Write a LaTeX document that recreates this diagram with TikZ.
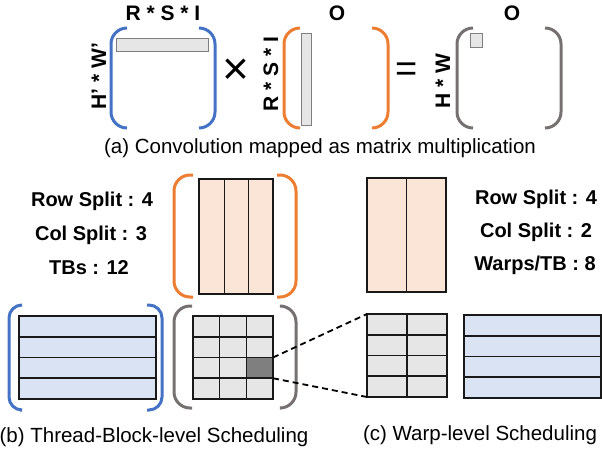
\documentclass[tikz,border=0pt]{standalone}
\usepackage{fontspec}
\setmainfont{Liberation Sans}
\definecolor{parenblue}{HTML}{4472C4}
\definecolor{parenorange}{HTML}{ED7D31}
\definecolor{parengray}{HTML}{767171}
\definecolor{bargray}{HTML}{E6E6E6}
\definecolor{darkcell}{HTML}{7F7F7F}
\definecolor{bluefill}{HTML}{DAE3F3}
\definecolor{orangefill}{HTML}{FBE5D6}
\begin{document}
\begin{tikzpicture}[x=1pt,y=-1pt,
   paren/.style={line width=3pt,rounded corners=16pt},
   gridline/.style={draw=black!90,line width=1.6pt},
   blk/.style={gridline,inner sep=0pt,outer sep=0pt},
   bar/.style={draw=darkcell,fill=bargray,line width=0.8pt},
   dimlabel/.style={font=\fontsize{21}{21}\selectfont\bfseries},
   info/.style={font=\fontsize{20}{20}\selectfont\bfseries,anchor=base},
   caption/.style={font=\fontsize{20.5}{20.5}\selectfont,anchor=base}]

   \useasboundingbox (0,0) rectangle (602,450);

   %%%%%%%%%% (a) convolution as matrix multiplication
   \draw[paren,parenblue] (127,28) -- (111,28) -- (111,128) -- (127,128);
   \draw[paren,parenblue] (199,28) -- (215,28) -- (215,128) -- (199,128);
   \draw[bar] (116,38) rectangle (208,51);
   \node[dimlabel,anchor=base] (rsitop) at (163,20) {R * S * I};
   \node[dimlabel,rotate=90] (hwin) at (99,76) {H’ * W’};
   \node[font=\fontsize{46}{46}\selectfont] (times) at (236,72) {×};

   \draw[paren,parenorange] (300,28) -- (284,28) -- (284,128) -- (300,128);
   \draw[paren,parenorange] (372,28) -- (388,28) -- (388,128) -- (372,128);
   \draw[bar] (301,33) rectangle (311,125);
   \node[dimlabel,rotate=90] (rsiside) at (271,74) {R * S * I};
   \node[dimlabel,anchor=base] (otop) at (337,20) {O};

   \node[font=\fontsize{38}{38}\selectfont] (equals) at (407,72) {=};

   \draw[paren,parengray] (473,28) -- (457,28) -- (457,128) -- (473,128);
   \draw[paren,parengray] (545,28) -- (561,28) -- (561,128) -- (545,128);
   \draw[bar] (470,33) rectangle (482,47);
   \node[dimlabel,rotate=90] (hwout) at (443,81) {H * W};
   \node[dimlabel,anchor=base] (oout) at (512,20) {O};

   \node[caption] (capa) at (320,153) {(a) Convolution mapped as matrix multiplication};

   %%%%%%%%%% (b) thread-block-level scheduling
   \node[info] (tbrow) at (92,206) {Row Split : 4};
   \node[info] (tbcol) at (91,240) {Col Split : 3};
   \node[info] (tbnum) at (89,274) {TBs : 12};

   \draw[paren,parenorange] (193,175) -- (174,175) -- (174,297) -- (193,297);
   \draw[paren,parenorange] (277,175) -- (296,175) -- (296,297) -- (277,297);
   \node[blk,fill=orangefill,minimum width=74pt,minimum height=115pt] (tbcols) at (236,236.5) {};
   \foreach \x in {224.67,248.33}
      \draw[gridline] (\x,179) -- (\x,294);

   \draw[paren,parenblue,rounded corners=13pt] (20,305) -- (9,305) -- (9,410) -- (20,410);
   \draw[paren,parenblue,rounded corners=13pt] (147,305) -- (162,305) -- (162,410) -- (147,410);
   \node[blk,fill=bluefill,minimum width=137pt,minimum height=83pt] (tbrows) at (87.5,357.5) {};
   \foreach \y in {336.75,357.5,378.25}
      \draw[gridline] (19,\y) -- (156,\y);

   \draw[paren,parengray] (192,306) -- (174,306) -- (174,408) -- (192,408);
   \draw[paren,parengray] (281,306) -- (296,306) -- (296,408) -- (281,408);
   \node[blk,fill=bargray,minimum width=80pt,minimum height=83pt] (tbgrid) at (233,357.5) {};
   \node[blk,fill=darkcell,minimum width=26.67pt,minimum height=20.75pt] (tbcell) at (259.67,367.875) {};
   \foreach \x in {219.67,246.33}
      \draw[gridline] (\x,316) -- (\x,399);
   \foreach \y in {336.75,357.5,378.25}
      \draw[gridline] (193,\y) -- (273,\y);

   \node[caption] (capb) at (154,442) {(b) Thread-Block-level Scheduling};

   %%%%%%%%%% (c) warp-level scheduling
   \node[blk,fill=orangefill,minimum width=79pt,minimum height=114pt] (wcols) at (406.5,235) {};
   \draw[gridline] (wcols.north) -- (wcols.south);

   \node[info] (wrow) at (536,204) {Row Split : 4};
   \node[info] (wcol) at (536,237) {Col Split : 2};
   \node[info] (wnum) at (535,270) {Warps/TB : 8};

   \node[blk,fill=bargray,minimum width=80pt,minimum height=83pt] (wgrid) at (407,355.5) {};
   \draw[gridline] (wgrid.north) -- (wgrid.south);
   \foreach \y in {334.75,355.5,376.25}
      \draw[gridline] (367,\y) -- (447,\y);

   \node[blk,fill=bluefill,minimum width=137pt,minimum height=83pt] (wrows) at (532.5,356.5) {};
   \foreach \y in {335.75,356.5,377.25}
      \draw[gridline] (464,\y) -- (601,\y);

   \draw[line width=1.8pt,dash pattern=on 6pt off 4pt] (tbcell.north east) -- (wgrid.north west);
   \draw[line width=1.8pt,dash pattern=on 6pt off 4pt] (tbcell.south east) -- (wgrid.south west);

   \node[caption] (capc) at (480,440) {(c) Warp-level Scheduling};
\end{tikzpicture}
\end{document}
